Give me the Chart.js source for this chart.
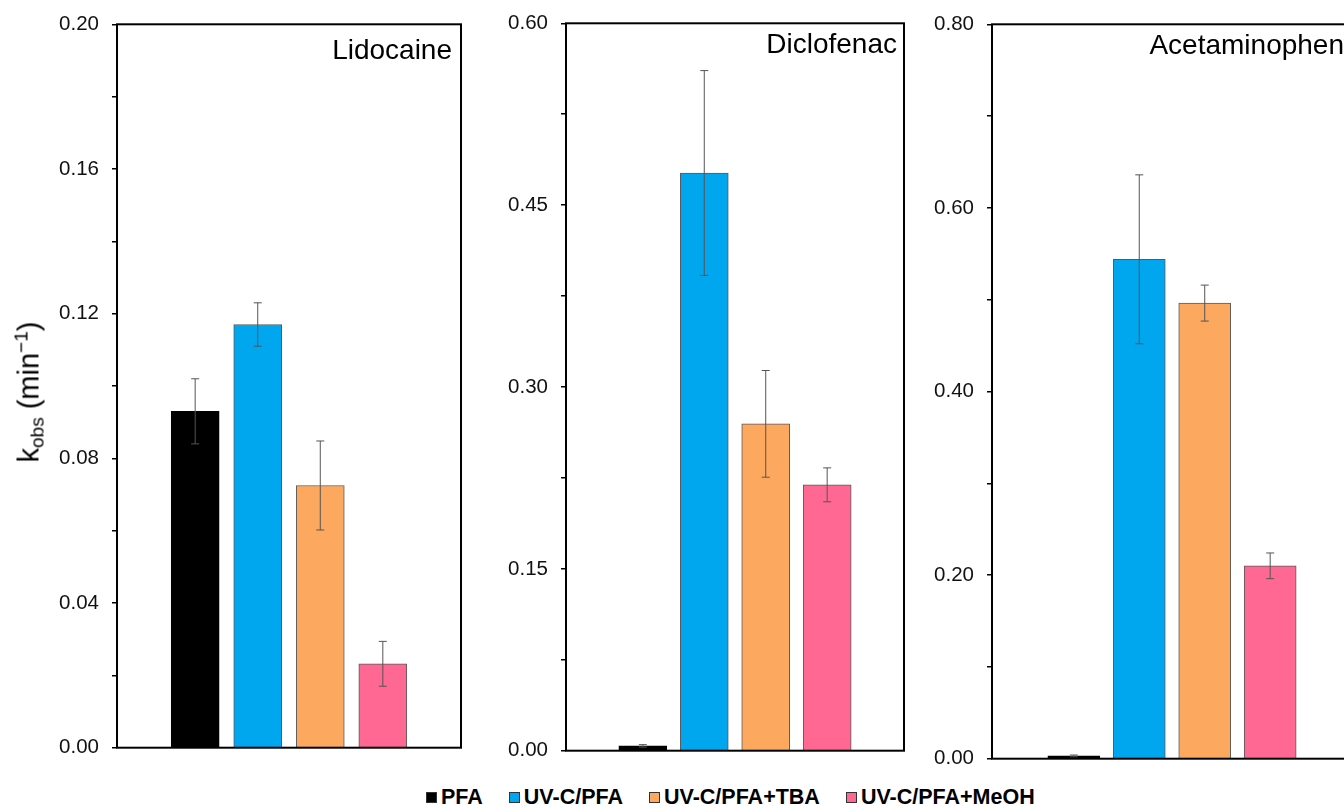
<!DOCTYPE html>
<html>
<head>
<meta charset="utf-8">
<script src="https://cdn.jsdelivr.net/npm/chart.js@4.4.1/dist/chart.umd.min.js"></script>
<style>
  html, body { margin: 0; padding: 0; background: #fff; }
  body { width: 1344px; height: 807px; overflow: hidden; position: relative;
         font-family: "Liberation Sans", Arial, sans-serif; color: #000; }
  canvas { position: absolute; }
  #ytitle { position: absolute; left: 29px; top: 392px; white-space: nowrap;
            font-size: 29px; line-height: 1;
            transform: translate(-50%, -50%) rotate(-90deg); }
  #ytitle sub { font-size: 19px; vertical-align: -5px; }
  #ytitle sup { font-size: 19px; vertical-align: 11px; }
  #legend { position: absolute; left: 426px; top: 787px; display: flex; align-items: center;
            gap: 26px; font-weight: bold; font-size: 21.5px; line-height: 21px; }
  .item { display: flex; align-items: center; }
  .sw { width: 9px; height: 9px; border: 1px solid #333; margin-right: 4px; }
</style>
</head>
<body>
<canvas id="c1" width="418" height="774" style="left:47px;top:-1px"></canvas>
<canvas id="c2" width="412" height="778" style="left:496px;top:-2px"></canvas>
<canvas id="c3" width="434" height="785" style="left:922px;top:-1px"></canvas>
<div id="ytitle">k<sub>obs</sub> (min<sup>−1</sup>)</div>
<div id="legend"></div>
<script>
// Treatment conditions (bars within each panel)
const conditions = ['PFA', 'UV-C/PFA', 'UV-C/PFA+TBA', 'UV-C/PFA+MeOH'];
const conditionColors = ['#000000', '#00A6EE', '#FDA85F', '#FE6893'];

// Observed rate constants k_obs (min^-1) and their error bars
const lidocaineK      = [0.093, 0.117, 0.0725, 0.0232];
const lidocaineErr    = [0.009, 0.006, 0.0123, 0.0062];
const diclofenacK     = [0.004, 0.4765, 0.2696, 0.2193];
const diclofenacErr   = [0.001, 0.0845, 0.0440, 0.0140];
const acetaminophenK  = [0.003, 0.5440, 0.4963, 0.2101];
const acetaminophenErr= [0.001, 0.0920, 0.0196, 0.0140];

// Y-axis ranges: max, tick step (labels on every other tick)
const lidocaineAxis     = { max: 0.20, step: 0.02 };
const diclofenacAxis    = { max: 0.60, step: 0.075 };
const acetaminophenAxis = { max: 0.80, step: 0.10 };

Chart.defaults.font.family = '"Liberation Sans", Arial, sans-serif';
Chart.defaults.color = '#000';

// Error bars drawn from the err array stored on the dataset
const errorBars = {
  id: 'errorBars',
  afterDatasetsDraw(chart) {
    const ctx = chart.ctx;
    const ys = chart.scales.y;
    const ds = chart.data.datasets[0];
    const meta = chart.getDatasetMeta(0);
    ctx.save();
    ctx.strokeStyle = '#555';
    ctx.lineWidth = 1;
    meta.data.forEach((bar, i) => {
      const v = ds.data[i].y, e = ds.err[i];
      const yTop = ys.getPixelForValue(v + e);
      const yBot = ys.getPixelForValue(v - e);
      const cap = 4;
      ctx.beginPath();
      ctx.moveTo(bar.x, yTop); ctx.lineTo(bar.x, yBot);
      ctx.moveTo(bar.x - cap, yTop); ctx.lineTo(bar.x + cap, yTop);
      ctx.moveTo(bar.x - cap, yBot); ctx.lineTo(bar.x + cap, yBot);
      ctx.stroke();
    });
    ctx.restore();
  }
};

// Boxed frame around the plot area plus the compound name
const frameAndName = {
  id: 'frameAndName',
  afterDraw(chart, args, opts) {
    const { ctx, chartArea: a } = chart;
    ctx.save();
    ctx.strokeStyle = '#000';
    ctx.lineWidth = 2;
    ctx.strokeRect(a.left, a.top, a.right - a.left, a.bottom - a.top);
    ctx.font = '28px "Liberation Sans", Arial, sans-serif';
    ctx.fillStyle = '#000';
    ctx.textAlign = 'right';
    ctx.textBaseline = 'alphabetic';
    ctx.fillText(opts.name, a.right - opts.inset, a.top + opts.baseline);
    ctx.restore();
  }
};

function makePanel(id, name, values, errs, axis, barWidth, nameInset, nameBaseline) {
  return new Chart(document.getElementById(id), {
    type: 'bar',
    data: {
      datasets: [{
        data: values.map((v, i) => ({ x: i, y: v })),
        err: errs,
        backgroundColor: conditionColors,
        borderColor: conditionColors.map((c, i) => i === 0 ? '#000' : '#5a5a5a'),
        borderWidth: 1,
        barThickness: barWidth
      }]
    },
    options: {
      responsive: false,
      animation: false,
      layout: { padding: { top: 14, bottom: 14, right: 4, left: 0 } },
      plugins: {
        legend: { display: false },
        tooltip: { enabled: false },
        frameAndName: { name: name, inset: nameInset, baseline: nameBaseline }
      },
      scales: {
        x: { type: 'linear', display: false, min: -1.25, max: 4.25, offset: false },
        y: {
          min: 0, max: axis.max,
          afterFit(scale) { scale.width = 70; },
          border: { display: false },
          grid: { drawOnChartArea: false, drawTicks: true, tickLength: 5, color: '#000', lineWidth: 1.5 },
          ticks: {
            stepSize: axis.step,
            autoSkip: false,
            padding: 13,
            font: { size: 20.5 },
            color: '#111',
            callback: (v, i) => (i % 2 === 0 ? Number(v).toFixed(2) : '')
          }
        }
      }
    },
    plugins: [errorBars, frameAndName]
  });
}

makePanel('c1', 'Lidocaine', lidocaineK, lidocaineErr, lidocaineAxis, 48, 9, 35);
makePanel('c2', 'Diclofenac', diclofenacK, diclofenacErr, diclofenacAxis, 48, 7, 30);
makePanel('c3', 'Acetaminophen', acetaminophenK, acetaminophenErr, acetaminophenAxis, 52, 8, 30);

// Shared legend
const legend = document.getElementById('legend');
conditions.forEach((c, i) => {
  const item = document.createElement('div');
  item.className = 'item';
  const sw = document.createElement('span');
  sw.className = 'sw';
  sw.style.background = conditionColors[i];
  const t = document.createElement('span');
  t.textContent = c;
  item.appendChild(sw);
  item.appendChild(t);
  legend.appendChild(item);
});
</script>
</body>
</html>
